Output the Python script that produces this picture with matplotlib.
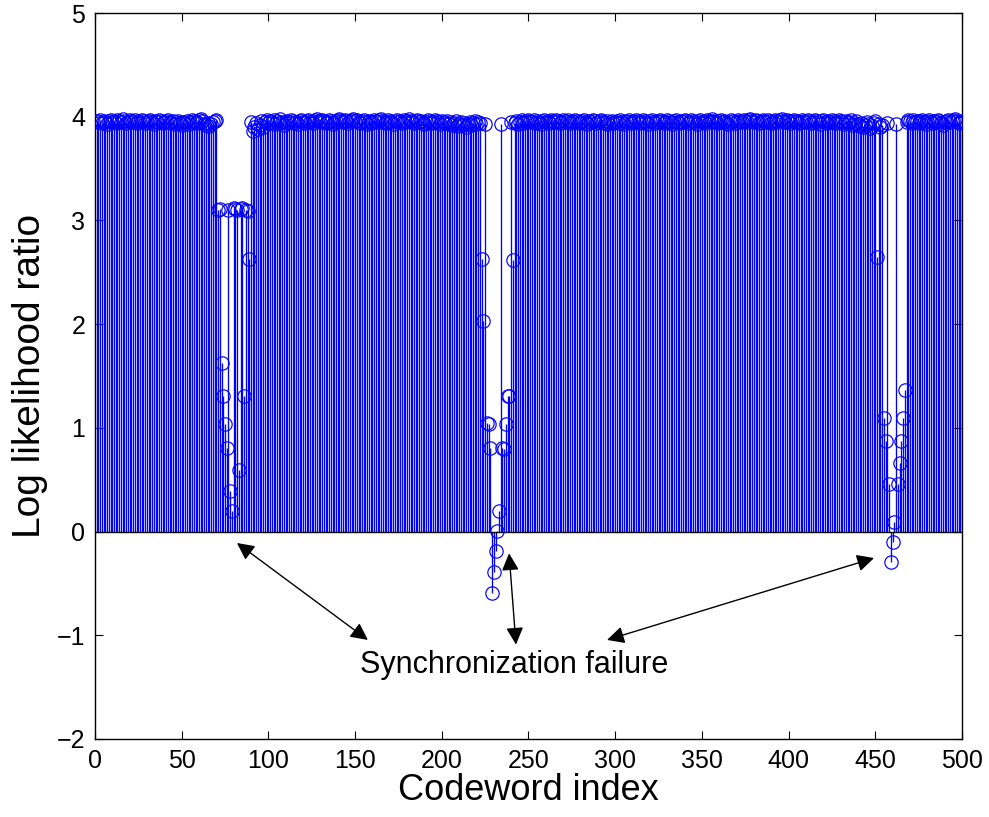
import numpy as np
import matplotlib
matplotlib.use("Agg")
import matplotlib.pyplot as plt

# Log likelihood ratio per codeword (codeword index 1..500)
llr = [
    # 1-25
    3.96, 3.95, 3.97, 3.94, 3.96, 3.95, 3.93, 3.96, 3.97, 3.95, 3.96, 3.94, 3.97, 3.96, 3.95, 3.98, 3.96, 3.94, 3.95, 3.97, 3.96, 3.95, 3.97, 3.94, 3.96,
    # 26-50
    3.95, 3.97, 3.96, 3.94, 3.95, 3.96, 3.97, 3.95, 3.93, 3.96, 3.95, 3.97, 3.96, 3.94, 3.95, 3.96, 3.97, 3.95, 3.94, 3.96, 3.93, 3.95, 3.96, 3.94, 3.92,
    # 51-75
    3.95, 3.94, 3.96, 3.93, 3.95, 3.97, 3.96, 3.94, 3.95, 3.97, 3.98, 3.96, 3.93, 3.92, 3.94, 3.91, 3.93, 3.95, 3.96, 3.97, 3.10, 3.11, 1.63, 1.31, 1.04,
    # 76-100
    0.81, 3.10, 0.39, 0.20, 3.12, 3.11, 3.10, 0.59, 3.11, 3.12, 1.31, 3.10, 3.09, 2.63, 3.95, 3.86, 3.90, 3.94, 3.88, 3.92, 3.96, 3.90, 3.95, 3.97, 3.94,
    # 101-125
    3.96, 3.95, 3.97, 3.93, 3.96, 3.94, 3.98, 3.95, 3.92, 3.94, 3.96, 3.95, 3.97, 3.96, 3.94, 3.95, 3.93, 3.96, 3.97, 3.95, 3.94, 3.96, 3.97, 3.95, 3.96,
    # 126-150
    3.94, 3.97, 3.98, 3.96, 3.95, 3.97, 3.96, 3.94, 3.95, 3.97, 3.96, 3.93, 3.95, 3.96, 3.97, 3.98, 3.96, 3.95, 3.97, 3.96, 3.94, 3.96, 3.97, 3.98, 3.96,
    # 151-175
    3.97, 3.95, 3.94, 3.96, 3.97, 3.95, 3.93, 3.96, 3.94, 3.95, 3.97, 3.96, 3.95, 3.97, 3.98, 3.96, 3.94, 3.95, 3.97, 3.96, 3.95, 3.93, 3.96, 3.97, 3.95,
    # 176-200
    3.96, 3.94, 3.97, 3.95, 3.96, 3.98, 3.96, 3.95, 3.94, 3.96, 3.97, 3.95, 3.96, 3.94, 3.93, 3.95, 3.97, 3.96, 3.94, 3.95, 3.97, 3.96, 3.95, 3.93, 3.96,
    # 201-225
    3.95, 3.94, 3.96, 3.93, 3.95, 3.92, 3.94, 3.96, 3.91, 3.93, 3.95, 3.92, 3.94, 3.90, 3.93, 3.95, 3.92, 3.94, 3.96, 3.93, 3.95, 3.94, 2.63, 2.03, 3.93,
    # 226-250
    1.05, 1.04, 0.81, -0.59, -0.39, -0.19, 0.01, 0.20, 3.93, 0.81, 0.80, 1.04, 1.31, 1.31, 3.95, 2.62, 3.94, 3.96, 3.93, 3.95, 3.97, 3.94, 3.96, 3.95, 3.97,
    # 251-275
    3.96, 3.95, 3.97, 3.94, 3.96, 3.95, 3.93, 3.96, 3.97, 3.95, 3.96, 3.94, 3.97, 3.96, 3.95, 3.97, 3.96, 3.94, 3.95, 3.97, 3.96, 3.95, 3.97, 3.94, 3.96,
    # 276-300
    3.95, 3.97, 3.96, 3.94, 3.95, 3.96, 3.97, 3.95, 3.93, 3.96, 3.95, 3.97, 3.96, 3.94, 3.95, 3.96, 3.97, 3.95, 3.94, 3.96, 3.93, 3.95, 3.96, 3.94, 3.95,
    # 301-325
    3.96, 3.94, 3.97, 3.95, 3.93, 3.96, 3.95, 3.97, 3.94, 3.96, 3.95, 3.97, 3.96, 3.94, 3.95, 3.97, 3.96, 3.95, 3.93, 3.96, 3.97, 3.95, 3.94, 3.96, 3.95,
    # 326-350
    3.97, 3.96, 3.94, 3.95, 3.97, 3.96, 3.95, 3.93, 3.96, 3.97, 3.95, 3.94, 3.96, 3.95, 3.97, 3.96, 3.94, 3.95, 3.97, 3.96, 3.95, 3.93, 3.96, 3.97, 3.95,
    # 351-375
    3.96, 3.94, 3.97, 3.95, 3.96, 3.98, 3.96, 3.95, 3.94, 3.96, 3.97, 3.95, 3.96, 3.94, 3.93, 3.95, 3.97, 3.96, 3.94, 3.95, 3.97, 3.96, 3.95, 3.97, 3.96,
    # 376-400
    3.95, 3.97, 3.98, 3.96, 3.95, 3.97, 3.96, 3.94, 3.95, 3.97, 3.96, 3.95, 3.97, 3.96, 3.94, 3.95, 3.97, 3.96, 3.95, 3.97, 3.98, 3.96, 3.95, 3.97, 3.96,
    # 401-425
    3.94, 3.96, 3.97, 3.95, 3.96, 3.94, 3.95, 3.97, 3.96, 3.95, 3.97, 3.96, 3.94, 3.95, 3.97, 3.96, 3.95, 3.93, 3.96, 3.97, 3.95, 3.94, 3.96, 3.95, 3.97,
    # 426-450
    3.96, 3.94, 3.95, 3.97, 3.96, 3.95, 3.93, 3.96, 3.94, 3.95, 3.97, 3.92, 3.94, 3.96, 3.93, 3.91, 3.94, 3.90, 3.92, 3.95, 3.93, 3.89, 3.91, 3.94, 3.96,
    # 451-475
    2.65, 3.93, 3.90, 3.92, 1.10, 0.87, 3.94, 0.46, -0.29, -0.10, 0.09, 3.93, 0.46, 0.66, 0.87, 1.10, 1.37, 3.95, 3.97, 3.96, 3.94, 3.97, 3.95, 3.96, 3.94,
    # 476-500
    3.96, 3.97, 3.95, 3.93, 3.96, 3.97, 3.95, 3.94, 3.96, 3.95, 3.97, 3.96, 3.94, 3.92, 3.95, 3.96, 3.97, 3.95, 3.96, 3.97, 3.98, 3.96, 3.94, 3.95, 3.96,
]
codeword_index = list(range(1, len(llr) + 1))

x_ticks = [0, 50, 100, 150, 200, 250, 300, 350, 400, 450, 500]
y_ticks = [-2, -1, 0, 1, 2, 3, 4, 5]

annotation_text = "Synchronization failure"
# text anchor and the points the double arrows connect (data units)
text_pos = (241.6, -1.29)
arrow_pairs = [
    ((157.4, -1.045), (81.9, -0.11)),
    ((242.8, -1.09), (238.8, -0.21)),
    ((295.3, -1.045), (449.3, -0.255)),
]

plt.rcParams["font.family"] = ["Liberation Sans", "DejaVu Sans"]

fig = plt.figure(figsize=(9.89, 8.17), dpi=100)
ax = fig.add_axes([0.096, 0.0955, 0.8767, 0.8885])

blue = (0, 0, 1)
ax.vlines(codeword_index, 0, llr, colors=[blue], linewidth=0.95)
ax.axhline(0, color="black", linewidth=1.0, zorder=3)
ax.plot(codeword_index, llr, linestyle="none", marker="o", markersize=9.6,
        markerfacecolor="none", markeredgecolor=blue, markeredgewidth=0.85, zorder=4)

for tail, head in arrow_pairs:
    ax.annotate("", xy=head, xytext=tail,
                arrowprops=dict(arrowstyle="<|-|>", color="black", lw=1.0,
                                mutation_scale=26, shrinkA=0, shrinkB=0))

ax.text(text_pos[0], text_pos[1], annotation_text, ha="center", va="center",
        fontsize=22)

ax.set_xlim(0, 500)
ax.set_ylim(-2, 5)
ax.set_xticks(x_ticks)
ax.set_yticks(y_ticks)
ax.tick_params(direction="in", top=True, right=True, length=6, width=0.8,
               labelsize=18, pad=7)
for sp in ax.spines.values():
    sp.set_linewidth(1.0)

ax.set_xlabel("Codeword index", fontsize=26, labelpad=0)
ax.set_ylabel("Log likelihood ratio", fontsize=28, labelpad=6)

fig.savefig("out.png", dpi=100)
